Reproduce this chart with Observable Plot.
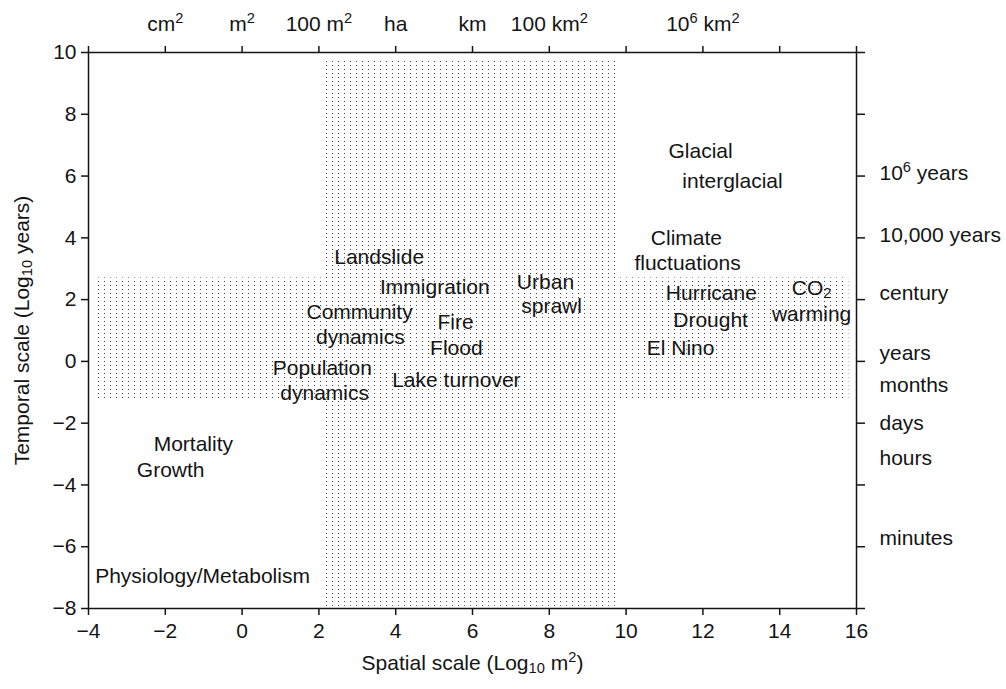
<!DOCTYPE html>
<html><head><meta charset="utf-8">
<script src="https://cdn.jsdelivr.net/npm/d3@7"></script>
<script src="https://cdn.jsdelivr.net/npm/@observablehq/plot@0.6"></script>
<style>body{margin:0;background:#fff}</style>
</head><body><div id="chart"></div>
<script>
// ---- data ----
const xTicks = [-4, -2, 0, 2, 4, 6, 8, 10, 12, 14, 16];
const yTicks = [-8, -6, -4, -2, 0, 2, 4, 6, 8, 10];
const areaTickX = [-2, 0, 2, 4, 6, 8, 12];
const areaTickLabels = ["cm²", "m²", "100 m²", "ha", "km", "100 km²", "10⁶ km²"];
const timeLabels = ["10⁶ years", "10,000 years", "century", "years", "months", "days", "hours", "minutes"];
const timeY = [6.1, 4.08, 2.2, 0.26, -0.78, -2.0, -3.14, -5.73];

const bandNames = ["horizontal band", "vertical band"];
const bandX1 = [-3.85, 2.1];
const bandX2 = [15.8, 9.8];
const bandY1 = [-1.3, -7.93];
const bandY2 = [2.7, 9.8];

const processNames = ["Glacial", "interglacial", "Climate", "fluctuations", "Landslide", "Immigration",
  "Urban", "sprawl", "Community", "dynamics", "Fire", "Flood", "Population", "dynamics", "Lake turnover",
  "Hurricane", "Drought", "El Nino", "CO₂", "warming", "Mortality", "Growth", "Physiology/Metabolism"];
const processX = [11.94, 12.77, 11.57, 11.6, 3.57, 5.02, 7.9, 8.06, 3.06, 3.08, 5.56, 5.58, 2.09, 2.15, 5.58,
  12.22, 12.2, 11.42, 14.83, 14.83, -1.27, -1.86, -1.03];
const processY = [6.8, 5.83, 3.98, 3.17, 3.37, 2.39, 2.56, 1.78, 1.59, 0.78, 1.26, 0.42, -0.23, -1.04, -0.61,
  2.2, 1.33, 0.42, 2.38, 1.52, -2.69, -3.53, -6.96];

const xTitle = "Spatial scale (Log₁₀ m²)";
const yTitle = "Temporal scale (Log₁₀ years)";

// ---- chart ----
const ink = "#141414";
const svg = Plot.plot({
  width: 1006,
  height: 689,
  marginLeft: 88,
  marginRight: 150,
  marginTop: 52,
  marginBottom: 81,
  style: {fontFamily: "'Liberation Sans', Arial, Helvetica, sans-serif", fontSize: "21px", color: ink, background: "#fff"},
  x: {domain: [-4, 16]},
  y: {domain: [-8, 10]},
  marks: [
    Plot.rect(bandNames, {
      x1: (d, i) => bandX1[i], x2: (d, i) => bandX2[i],
      y1: (d, i) => bandY1[i], y2: (d, i) => bandY2[i],
      fill: "url(#dots)"
    }),
    Plot.frame({stroke: ink, strokeWidth: 1.5}),
    Plot.axisX({anchor: "bottom", ticks: xTicks, tickSize: 7, tickPadding: 8, strokeWidth: 1.5, label: null}),
    Plot.axisX({anchor: "top", ticks: xTicks, tickSize: 7, tickPadding: 15, strokeWidth: 1.5, label: null,
      tickFormat: (d) => { const i = areaTickX.indexOf(d); return i >= 0 ? areaTickLabels[i] : ""; }}),
    Plot.axisY({anchor: "left", ticks: yTicks, tickSize: 7, tickPadding: 5, strokeWidth: 1.5, label: null}),
    Plot.axisY({anchor: "right", ticks: yTicks, tickSize: 8, strokeWidth: 1.5, label: null, tickFormat: () => ""}),
    Plot.text(timeLabels, {x: 16, y: (d, i) => timeY[i], text: (d) => d, dx: 23, textAnchor: "start", fill: ink}),
    Plot.text(processNames, {x: (d, i) => processX[i], y: (d, i) => processY[i], text: (d) => d, fill: ink}),
    Plot.text([xTitle], {frameAnchor: "bottom", dy: 61, text: (d) => d, fill: ink}),
    Plot.text([yTitle], {frameAnchor: "left", dx: -66, rotate: -90, textAnchor: "middle", text: (d) => d, fill: ink})
  ]
});

// dot pattern
const defs = d3.select(svg).insert("defs", ":first-child");
const pat = defs.append("pattern").attr("id", "dots").attr("patternUnits", "userSpaceOnUse")
  .attr("width", 6).attr("height", 4);
pat.append("rect").attr("x", 2).attr("y", 1).attr("width", 1).attr("height", 1).attr("fill", "#444");

// superscripts / subscripts
const sup = {"²": "2", "⁶": "6"};
const sub = {"₁": "1", "₀": "0", "₂": "2"};
svg.querySelectorAll("text").forEach((t) => {
  if (t.children.length) return;
  const s = t.textContent;
  if (![...s].some((c) => c in sup || c in sub)) return;
  const runs = [];
  for (const c of s) {
    const k = c in sup ? "sup" : c in sub ? "sub" : "n";
    const ch = sup[c] ?? sub[c] ?? c;
    if (runs.length && runs[runs.length - 1].k === k) runs[runs.length - 1].s += ch;
    else runs.push({k, s: ch});
  }
  t.textContent = "";
  for (const r of runs) {
    const ts = document.createElementNS("http://www.w3.org/2000/svg", "tspan");
    ts.textContent = r.s;
    if (r.k === "sup") { ts.setAttribute("font-size", "0.7em"); ts.setAttribute("baseline-shift", "55%"); }
    if (r.k === "sub") { ts.setAttribute("font-size", "0.7em"); ts.setAttribute("baseline-shift", "-18%"); }
    t.appendChild(ts);
  }
});

document.getElementById("chart").appendChild(svg);
</script>
</body></html>
